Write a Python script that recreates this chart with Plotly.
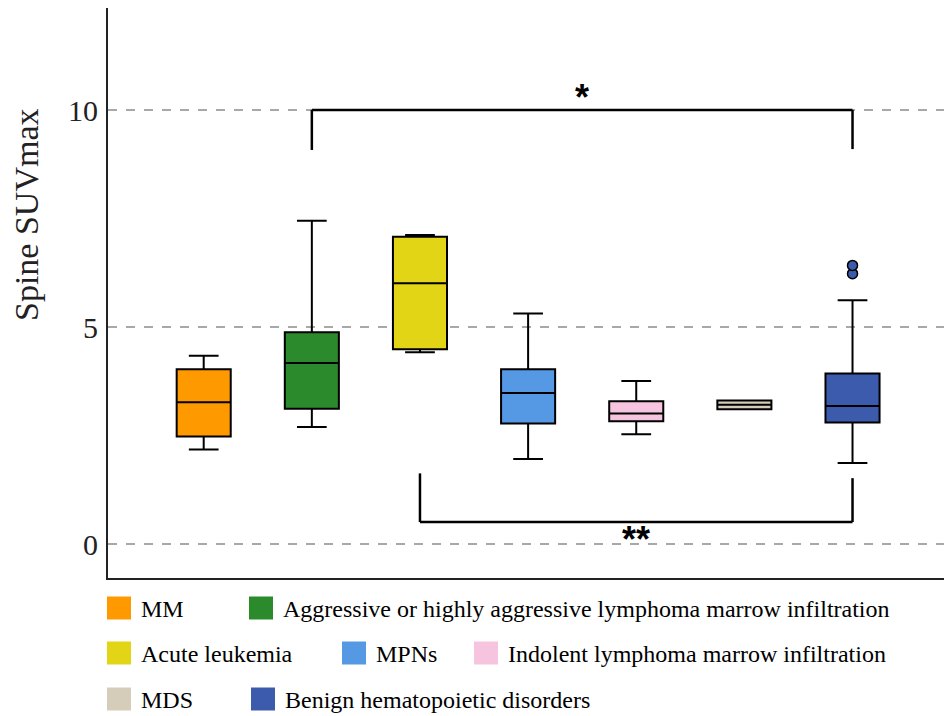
import plotly.graph_objects as go

# ---- data ----
categories = ["MM",
              "Aggressive or highly aggressive lymphoma marrow infiltration",
              "Acute leukemia",
              "MPNs",
              "Indolent lymphoma marrow infiltration",
              "MDS",
              "Benign hematopoietic disorders"]
colors = ["#FF9900", "#2B8A2B", "#E2D515", "#5598E4", "#F7C4DF", "#D5CCBA", "#3D5BAD"]
lower_fence = [2.18, 2.70, 4.42, 1.96, 2.53, 3.11, 1.87]
q1_vals = [2.48, 3.12, 4.49, 2.78, 2.83, 3.11, 2.80]
median_vals = [3.27, 4.17, 6.01, 3.48, 3.01, 3.21, 3.18]
q3_vals = [4.03, 4.88, 7.08, 4.03, 3.29, 3.31, 3.93]
upper_fence = [4.34, 7.45, 7.12, 5.31, 3.76, 3.31, 5.62]
outlier_group = [6, 6]
outlier_vals = [6.23, 6.42]

sig_from = [1, 2]
sig_to = [6, 6]
sig_text = ["*", "**"]
sig_bar_y = [10.0, 0.51]
sig_leg_from_y = [9.08, 1.63]
sig_leg_to_y = [9.10, 1.52]
sig_text_y = [9.78, -0.42]

y_ticks = [0, 5, 10]
y_title = "Spine SUVmax"

# ---- layout constants (page has an 8px body offset) ----
OFF = 8
W, H = 952 - OFF, 716 - OFF
ML, MR, MT, MB = 100, 0, 0, 138
PW, PH = W - ML - MR, H - MT - MB


def px_x(sx):
    return (sx - OFF - ML) / PW


def px_y(sy):
    return (H - MB - (sy - OFF)) / PH


fig = go.Figure()
for i, cat in enumerate(categories):
    fig.add_trace(go.Box(
        x=[i], q1=[q1_vals[i]], median=[median_vals[i]], q3=[q3_vals[i]],
        lowerfence=[lower_fence[i]], upperfence=[upper_fence[i]],
        name=cat, fillcolor=colors[i],
        line=dict(color="black", width=2), width=0.5, whiskerwidth=0.55,
        boxpoints=False, showlegend=False, hoverinfo="skip"))

fig.add_trace(go.Scatter(
    x=outlier_group, y=outlier_vals, mode="markers",
    marker=dict(size=10, color=colors[6], line=dict(color="black", width=1.5)),
    showlegend=False, hoverinfo="skip"))

shapes = []
annotations = []
for a, b, t, by, ly0, ly1, ty in zip(sig_from, sig_to, sig_text, sig_bar_y,
                                     sig_leg_from_y, sig_leg_to_y, sig_text_y):
    ln = dict(color="black", width=2.5)
    shapes.append(dict(type="line", xref="x", yref="y", x0=a, x1=b, y0=by, y1=by, line=ln))
    shapes.append(dict(type="line", xref="x", yref="y", x0=a, x1=a, y0=by, y1=ly0, line=ln))
    shapes.append(dict(type="line", xref="x", yref="y", x0=b, x1=b, y0=by, y1=ly1, line=ln))
    annotations.append(dict(x=(a + b) / 2, y=ty, xref="x", yref="y", text="<b>" + t + "</b>",
                            showarrow=False,
                            font=dict(family="Liberation Sans", size=36, color="black"),
                            xanchor="center", yanchor="bottom"))

# ---- manual legend ----
legend_rows = [[0, 1], [2, 3, 4], [5, 6]]
row_y_px = [608, 653, 699]
swatch_x_px = [[107, 249], [107, 342, 474], [107, 251]]
SW = 24
for r, row in enumerate(legend_rows):
    for k, idx in enumerate(row):
        sx = swatch_x_px[r][k]
        cy = row_y_px[r]
        shapes.append(dict(type="rect", xref="paper", yref="paper",
                           x0=px_x(sx), x1=px_x(sx + SW),
                           y0=px_y(cy + 11.5), y1=px_y(cy - 11.5),
                           fillcolor=colors[idx], line=dict(width=0)))
        annotations.append(dict(x=px_x(sx + SW + 8), y=px_y(cy + 1),
                                xref="paper", yref="paper", text=categories[idx],
                                showarrow=False, xanchor="left", yanchor="middle",
                                font=dict(family="Liberation Serif", size=24, color="black")))

annotations.append(dict(x=px_x(26), y=px_y(215), xref="paper", yref="paper",
                        text=y_title, textangle=-90, showarrow=False,
                        xanchor="center", yanchor="middle",
                        font=dict(family="Liberation Serif", size=34, color="#222")))

fig.update_layout(
    width=W, height=H,
    margin=dict(l=ML, r=MR, t=MT, b=MB, pad=0),
    paper_bgcolor="white", plot_bgcolor="white",
    boxmode="overlay",
    shapes=shapes, annotations=annotations,
    xaxis=dict(range=[-0.885, 6.92], showticklabels=False, ticks="", showgrid=False,
               zeroline=False, showline=True, linecolor="#222", linewidth=2),
    yaxis=dict(range=[-0.78, 12.35], tickvals=y_ticks, ticks="", showgrid=True,
               gridcolor="#a8a8a8", gridwidth=1.5, griddash="dash", zeroline=False,
               showline=True, linecolor="#222", linewidth=2, ticklabelstandoff=2,
               tickfont=dict(family="Liberation Serif", size=30, color="#222")),
)

fig.write_html("out.html")
